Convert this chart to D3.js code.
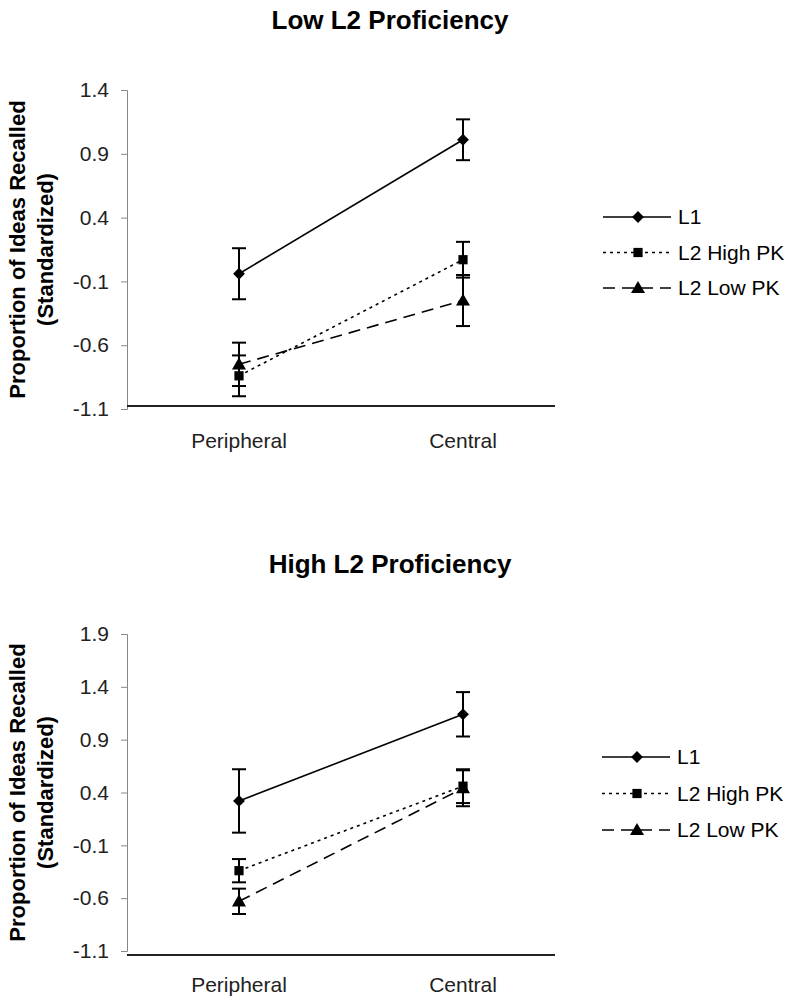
<!DOCTYPE html>
<html>
<head>
<meta charset="utf-8">
<script src="https://cdn.jsdelivr.net/npm/d3@7"></script>
<style>
  html, body { margin: 0; padding: 0; background: #fff; }
  svg { display: block; font-family: Arial, "Liberation Sans", sans-serif; }
</style>
</head>
<body>
<svg id="chart" width="800" height="1006"></svg>
<script>
// ---------- data ----------
const categories = ["Peripheral", "Central"];
const seriesNames = ["L1", "L2 High PK", "L2 Low PK"];

// Panel 1: Low L2 Proficiency
const lowTitle = "Low L2 Proficiency";
const lowTicks = [-1.1, -0.6, -0.1, 0.4, 0.9, 1.4];
const lowL1 = [-0.04, 1.01];
const lowL1Err = [0.20, 0.16];
const lowHighPK = [-0.84, 0.07];
const lowHighPKErr = [0.16, 0.14];
const lowLowPK = [-0.75, -0.25];
const lowLowPKErr = [0.17, 0.20];

// Panel 2: High L2 Proficiency
const highTitle = "High L2 Proficiency";
const highTicks = [-1.1, -0.6, -0.1, 0.4, 0.9, 1.4, 1.9];
const highL1 = [0.32, 1.14];
const highL1Err = [0.30, 0.21];
const highHighPK = [-0.34, 0.46];
const highHighPKErr = [0.11, 0.16];
const highLowPK = [-0.63, 0.44];
const highLowPKErr = [0.12, 0.17];

const yTitle1 = "Proportion of Ideas Recalled";
const yTitle2 = "(Standardized)";

// ---------- styles ----------
const seriesStyle = {
  "L1": { dash: null, symbol: "diamond" },
  "L2 High PK": { dash: "3,4", symbol: "square" },
  "L2 Low PK": { dash: "12,7", symbol: "triangle" }
};

const svg = d3.select("#chart");

function markerPath(kind) {
  if (kind === "diamond") return d3.symbol(d3.symbolSquare, 70)();
  if (kind === "square") return d3.symbol(d3.symbolSquare, 85)();
  return d3.symbol(d3.symbolTriangle, 85)();
}
function markerTransform(kind, x, y) {
  if (kind === "diamond") return `translate(${x},${y}) rotate(45)`;
  if (kind === "triangle") return `translate(${x},${y + 1})`;
  return `translate(${x},${y})`;
}

function drawPanel(cfg) {
  const g = svg.append("g");
  const x = d3.scalePoint().domain(categories).range([239, 463]);
  const y = d3.scaleLinear().domain([cfg.ticks[0], cfg.ticks[cfg.ticks.length - 1]])
    .range([cfg.bottom, cfg.top]);

  // title
  g.append("text")
    .attr("x", 390).attr("y", cfg.titleY)
    .attr("text-anchor", "middle")
    .attr("font-weight", "bold").attr("font-size", 26)
    .attr("fill", "#000")
    .text(cfg.title);

  // y axis
  const yAxis = d3.axisLeft(y).tickValues(cfg.ticks).tickSize(6).tickPadding(12)
    .tickFormat(d => d.toFixed(1));
  const ya = g.append("g").attr("transform", "translate(127,0)").call(yAxis);
  ya.select(".domain").attr("stroke", "#888").attr("stroke-width", 1);
  ya.selectAll(".tick line").attr("stroke", "#888");
  ya.selectAll(".tick text").attr("font-size", 21).attr("fill", "#222")
    .attr("font-family", "Arial, 'Liberation Sans', sans-serif");

  // x axis line
  g.append("line")
    .attr("x1", 127).attr("x2", 555)
    .attr("y1", y(cfg.ticks[0]) + cfg.xAxisOffset).attr("y2", y(cfg.ticks[0]) + cfg.xAxisOffset)
    .attr("stroke", "#222").attr("stroke-width", 2);

  // category labels
  const xa = g.append("g")
    .attr("transform", `translate(0,${cfg.catY})`);
  xa.selectAll("text").data(categories).join("text")
    .attr("x", d => x(d)).attr("y", 0)
    .attr("text-anchor", "middle").attr("font-size", 21).attr("fill", "#222")
    .text(d => d);

  // y title
  const cy = (cfg.top + cfg.bottom) / 2;
  g.append("text")
    .attr("transform", `translate(25,${cy}) rotate(-90)`)
    .attr("text-anchor", "middle").attr("font-weight", "bold").attr("font-size", 22)
    .text(yTitle1);
  g.append("text")
    .attr("transform", `translate(53,${cy}) rotate(-90)`)
    .attr("text-anchor", "middle").attr("font-weight", "bold").attr("font-size", 22)
    .text(yTitle2);

  const series = seriesNames.map((name, i) => ({
    name,
    values: cfg.values[i],
    errs: cfg.errs[i]
  }));

  const line = d3.line().x((d, i) => x(categories[i])).y(d => y(d));

  // lines
  g.selectAll(".series-line").data(series).join("path")
    .attr("class", "series-line")
    .attr("d", s => line(s.values))
    .attr("fill", "none").attr("stroke", "#000").attr("stroke-width", 1.6)
    .attr("stroke-dasharray", s => seriesStyle[s.name].dash);

  // error bars
  series.forEach(s => {
    const eg = g.append("g");
    s.values.forEach((v, i) => {
      const cx = x(categories[i]);
      const y1 = y(v + s.errs[i]), y2 = y(v - s.errs[i]);
      eg.append("line").attr("x1", cx).attr("x2", cx).attr("y1", y1).attr("y2", y2)
        .attr("stroke", "#000").attr("stroke-width", 2);
      [y1, y2].forEach(yy => {
        eg.append("line").attr("x1", cx - 7).attr("x2", cx + 7).attr("y1", yy).attr("y2", yy)
          .attr("stroke", "#000").attr("stroke-width", 2);
      });
    });
  });

  // markers
  series.forEach(s => {
    const kind = seriesStyle[s.name].symbol;
    g.selectAll(null).data(s.values).join("path")
      .attr("d", markerPath(kind))
      .attr("transform", (v, i) => markerTransform(kind, x(categories[i]), y(v)))
      .attr("fill", "#000");
  });

  // legend
  const lg = g.append("g");
  seriesNames.forEach((name, i) => {
    const ly = cfg.legendY + i * cfg.legendGap;
    const st = seriesStyle[name];
    lg.append("line").attr("x1", cfg.legendX).attr("x2", cfg.legendX + 68)
      .attr("y1", ly).attr("y2", ly)
      .attr("stroke", "#000").attr("stroke-width", 1.6)
      .attr("stroke-dasharray", st.dash);
    lg.append("path").attr("d", markerPath(st.symbol))
      .attr("transform", markerTransform(st.symbol, cfg.legendX + 35, ly))
      .attr("fill", "#000");
    lg.append("text").attr("x", cfg.legendX + 75).attr("y", ly + 7)
      .attr("font-size", 21).attr("fill", "#000").text(name);
  });
}

drawPanel({
  title: lowTitle, titleY: 29, ticks: lowTicks, top: 90, bottom: 409, xAxisOffset: -3,
  catY: 448,
  values: [lowL1, lowHighPK, lowLowPK],
  errs: [lowL1Err, lowHighPKErr, lowLowPKErr],
  legendX: 603, legendY: 217, legendGap: 35.5
});

drawPanel({
  title: highTitle, titleY: 573, ticks: highTicks, top: 634, bottom: 951, xAxisOffset: 4,
  catY: 992,
  values: [highL1, highHighPK, highLowPK],
  errs: [highL1Err, highHighPKErr, highLowPKErr],
  legendX: 602, legendY: 757, legendGap: 36.5
});
</script>
</body>
</html>
